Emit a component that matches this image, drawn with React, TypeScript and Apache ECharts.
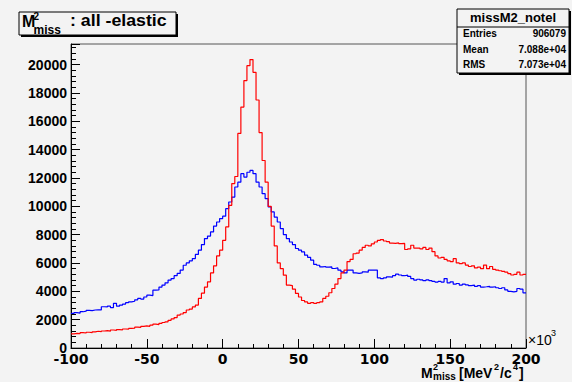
import React, { useEffect, useRef } from "react";
import * as echarts from "echarts";

const BIN_START = -100;
const BIN_WIDTH = 2;
const X_MIN = -100;
const X_MAX = 200;
const Y_MIN = 0;
const Y_MAX = 21450;
const X_INTERVAL = 50;
const Y_INTERVAL = 2000;

const redCounts = [
  1000, 1030, 1020, 1080, 1060, 1110, 1090, 1140, 1180, 1150,
  1200, 1230, 1190, 1270, 1250, 1300, 1280, 1340, 1330, 1380,
  1400, 1470, 1450, 1520, 1560, 1530, 1610, 1680, 1650, 1740,
  1800, 1850, 1950, 2050, 2150, 2320, 2400, 2500, 2680, 2750,
  2900, 3030, 3500, 3870, 4300, 4670, 5300, 5800, 6500, 6900,
  7600, 8540, 10070, 11600, 12100, 15140, 17000, 18870, 19920, 20350,
  19450, 17500, 15200, 13230, 11700, 10000, 8600, 7200, 6000, 5600,
  5140, 4440, 4400, 4150, 3850, 3600, 3350, 3250, 3150, 3200,
  3150, 3200, 3250, 3500, 3650, 3900, 4200, 4500, 4900, 5300,
  5500, 6100, 6250, 6650, 6700, 6900, 7100, 7250, 7200, 7350,
  7480, 7600, 7650, 7550, 7500, 7400, 7380, 7420, 7370, 7380,
  6950, 7000, 7250, 7050, 7050, 7000, 7100, 6950, 7050, 6800,
  6500, 6350, 6400, 6250, 6150, 6100, 6300, 6000, 5950, 6000,
  5850, 5750, 5800, 5650, 5700, 5600, 5850, 5600, 5750, 5550,
  5500, 5450, 5400, 5350, 5250, 5150, 5200, 5350, 5150, 5200,
];

const blueCounts = [
  2440, 2500, 2460, 2560, 2600, 2650, 2640, 2680, 2700, 2690,
  2910, 2900, 2950, 2850, 3150, 2950, 3030, 3100, 3200, 3260,
  3300, 3400, 3500, 3450, 3600, 3730, 3700, 4080, 4100, 4300,
  4440, 4600, 4790, 4900, 5100, 5260, 5500, 5840, 6000, 6150,
  6310, 6600, 6900, 7300, 7720, 7900, 8190, 8600, 8890, 9130,
  9300, 9830, 10300, 10650, 11360, 11700, 12300, 12060, 12400, 12530,
  12300, 11700, 11360, 10890, 10540, 9950, 9600, 9240, 8890, 8430,
  8000, 7720, 7480, 7300, 7020, 6900, 6780, 6550, 6400, 6200,
  5900, 5840, 5720, 5750, 5700, 5720, 5610, 5650, 5490, 5370,
  5300, 5490, 5500, 5300, 5260, 5300, 5370, 5350, 5490, 5500,
  5500, 4950, 4900, 4950, 5020, 5000, 5100, 5210, 5150, 5100,
  5140, 5050, 4900, 4790, 4850, 4800, 4750, 4800, 4750, 4700,
  4650, 4700, 4650, 4900, 4600, 4670, 4500, 4550, 4440, 4500,
  4450, 4400, 4440, 4350, 4400, 4300, 4320, 4350, 4300, 4320,
  4250, 4200, 4250, 4100, 4000, 3960, 4000, 4200, 4150, 3890,
];

const statsTitle = "missM2_notel";
const statsLabels = ["Entries", "Mean", "RMS"];
const statsValues = ["906079", "7.088e+04", "7.073e+04"];

const BG = "#f3f3f3";
const FONT = "'Liberation Sans', Arial, sans-serif";

function toSteps(counts: number[]) {
  const pts: number[][] = counts.map((v, i) => [BIN_START + i * BIN_WIDTH, v]);
  pts.push([BIN_START + counts.length * BIN_WIDTH, counts[counts.length - 1]]);
  return pts;
}

function txt(x: number, y: number, text: string, size: number, opts: any = {}) {
  return {
    type: "text",
    x,
    y,
    scaleX: opts.scaleX ?? 1,
    z: 100,
    style: {
      x: 0,
      y: 0,
      text,
      fill: "#000",
      font: `${opts.weight ?? "bold"} ${size}px ${opts.family ?? FONT}`,
      align: opts.align ?? "left",
      verticalAlign: "middle",
    },
  };
}

export default function App() {
  const ref = useRef<HTMLDivElement>(null);
  useEffect(() => {
    document.body.style.margin = "0";
    if (!ref.current) return;
    const chart = echarts.init(ref.current, null, { renderer: "svg" });
    const statsRowY = [33, 49, 64];
    const graphic: any[] = [
      // title box
      { type: "rect", shape: { x: 21, y: 14, width: 157, height: 23 }, style: { fill: "#000" }, z: 90 },
      { type: "rect", shape: { x: 19, y: 12, width: 157, height: 23 }, style: { fill: BG, stroke: "#000", lineWidth: 1 }, z: 91 },
      txt(22, 21, "M", 16),
      txt(33.5, 16, "2", 10),
      txt(33.5, 30, "miss", 12),
      txt(70, 21, ": all -elastic", 16, { scaleX: 1.11 }),
      // stats box
      { type: "rect", shape: { x: 459, y: 11, width: 112, height: 64 }, style: { fill: "#000" }, z: 90 },
      { type: "rect", shape: { x: 457, y: 9, width: 112, height: 64 }, style: { fill: BG, stroke: "#000", lineWidth: 1 }, z: 91 },
      { type: "line", shape: { x1: 457, y1: 27, x2: 569, y2: 27 }, style: { stroke: "#000", lineWidth: 1 }, z: 92 },
      txt(513, 17.5, statsTitle, 13, { align: "center" }),
      ...statsLabels.map((l, i) => txt(463, statsRowY[i], l, 10)),
      ...statsValues.map((v, i) => txt(566, statsRowY[i], v, 10, { align: "right" })),
      // x axis title
      txt(421, 373, "M", 14),
      txt(433, 367, "2", 9),
      txt(433, 376, "miss", 10),
      txt(459, 373, "[MeV", 14),
      txt(494, 367, "2", 9),
      txt(500, 373, "/c", 14),
      txt(513, 367, "4", 9),
      txt(519, 373, "]", 14),
      // x10^3
      txt(528, 340, "×10", 14, { weight: "normal" }),
      txt(551, 333, "3", 9, { weight: "normal" }),
    ];

    chart.setOption({
      animation: false,
      backgroundColor: BG,
      grid: {
        left: 71,
        right: 46,
        top: 44,
        bottom: 34,
        show: true,
        borderColor: "#555",
        borderWidth: 1,
        backgroundColor: BG,
      },
      xAxis: {
        type: "value",
        min: X_MIN,
        max: X_MAX,
        interval: X_INTERVAL,
        axisLine: { show: true, onZero: false, lineStyle: { color: "#000", width: 1 } },
        axisTick: { show: true, inside: true, length: 9, lineStyle: { color: "#000" } },
        minorTick: { show: true, splitNumber: 5, length: 4, lineStyle: { color: "#000" } },
        splitLine: { show: false },
        axisLabel: {
          margin: 4,
          color: "#000",
          fontFamily: "'DejaVu Sans', sans-serif",
          fontWeight: "bold",
          fontSize: 14,
        },
      },
      yAxis: {
        type: "value",
        min: Y_MIN,
        max: Y_MAX,
        interval: Y_INTERVAL,
        axisLine: { show: true, onZero: false, lineStyle: { color: "#000", width: 1 } },
        axisTick: { show: true, inside: true, length: 9, lineStyle: { color: "#000" } },
        minorTick: { show: true, splitNumber: 5, length: 5, lineStyle: { color: "#000" } },
        splitLine: { show: false },
        axisLabel: {
          margin: 4,
          color: "#000",
          fontFamily: FONT,
          fontWeight: "bold",
          fontSize: 14,
          formatter: (v: number) => (v % Y_INTERVAL === 0 ? String(v) : ""),
        },
      },
      series: [
        {
          name: "blue",
          type: "line",
          step: "end",
          symbol: "none",
          data: toSteps(blueCounts),
          lineStyle: { color: "#0000ff", width: 1.2 },
          z: 3,
        },
        {
          name: "red",
          type: "line",
          step: "end",
          symbol: "none",
          data: toSteps(redCounts),
          lineStyle: { color: "#ff0000", width: 1.2 },
          z: 4,
        },
      ],
      graphic,
    });
    return () => chart.dispose();
  }, []);
  return <div ref={ref} style={{ width: 572, height: 382 }} />;
}
